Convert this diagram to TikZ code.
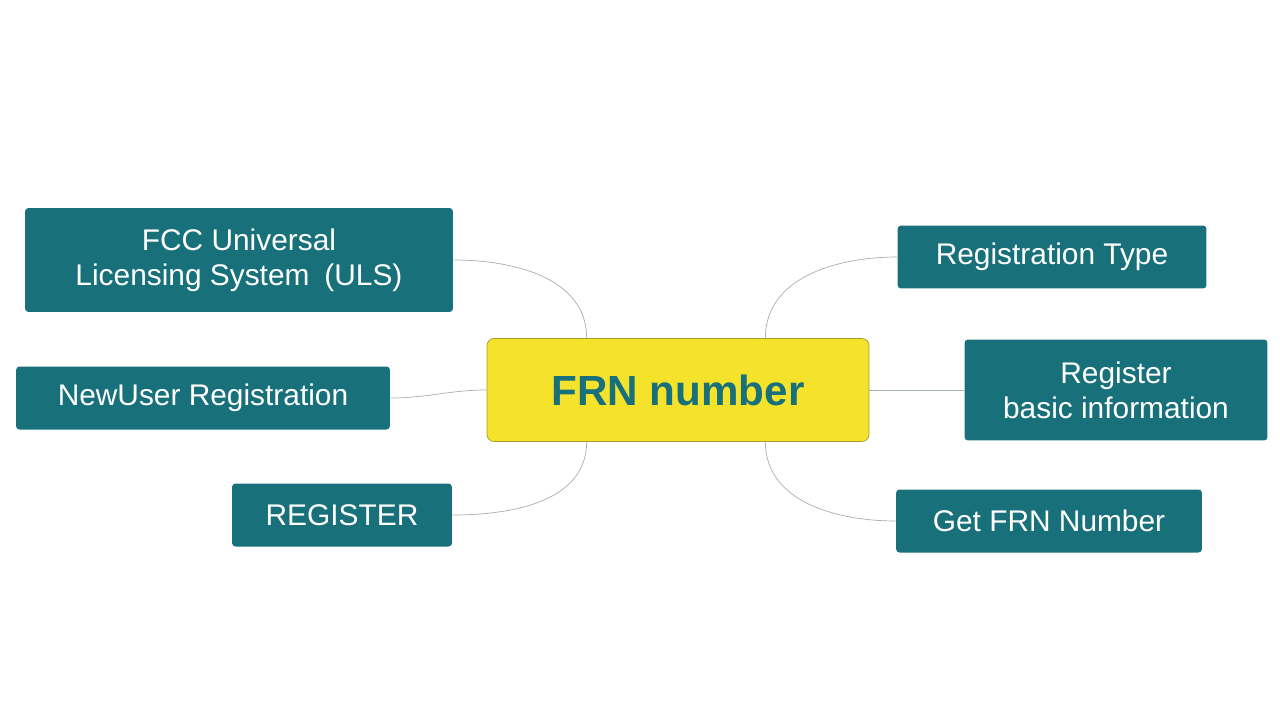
\documentclass[tikz,border=0pt]{standalone}
\usepackage{fontspec}
\setmainfont{Liberation Sans}
\usetikzlibrary{positioning}
\definecolor{boxteal}{HTML}{17707A}
\definecolor{frnyellow}{HTML}{F4E32A}
\definecolor{frnedge}{HTML}{A89A2A}
\definecolor{linkgray}{HTML}{A3AEB5}
\begin{document}
\begin{tikzpicture}[x=0.02cm,y=-0.02cm,
    topic/.style={rectangle,rounded corners=2pt,fill=boxteal,text=white,
      font=\fontsize{17}{20}\selectfont,align=center,inner sep=0pt},
    centre/.style={rectangle,rounded corners=4pt,fill=frnyellow,draw=frnedge,
      text=boxteal,font=\fontsize{24}{28}\selectfont\bfseries,inner sep=0pt,
      minimum width=7.64cm,minimum height=2.06cm},
    link/.style={draw=linkgray,thin}]
  \useasboundingbox (0,0) rectangle (1280,720);

  \node[centre] (frn) at (678,390) {FRN number};

  \node[topic,minimum width=8.56cm,minimum height=2.08cm] (fcc) at (239,260)
    {FCC Universal\\Licensing System\hspace{0.5em}(ULS)};
  \node[topic,minimum width=7.48cm,minimum height=1.26cm] (newuser) at (203,398)
    {NewUser Registration};
  \node[topic,minimum width=4.4cm,minimum height=1.26cm] (register) at (342,515)
    {REGISTER};

  \node[topic,minimum width=6.18cm,minimum height=1.26cm] (regtype) at (1052,257)
    {Registration Type};
  \node[topic,minimum width=6.06cm,minimum height=2.02cm] (basic) at (1116,390)
    {Register\\basic information};
  \node[topic,minimum width=6.12cm,minimum height=1.26cm] (getfrn) at (1049,521)
    {Get FRN Number};

  \path[link]
    ([xshift=2cm]frn.north west) edge[out=90,in=0] (fcc.east)
    (frn.west) edge[out=180,in=0] (newuser.east)
    ([xshift=2cm]frn.south west) edge[out=-90,in=0] (register.east)
    ([xshift=-2.08cm]frn.north east) edge[out=90,in=180] (regtype.west)
    (frn.east) edge (basic.west)
    ([xshift=-2.08cm]frn.south east) edge[out=-90,in=180] (getfrn.west);
\end{tikzpicture}
\end{document}
